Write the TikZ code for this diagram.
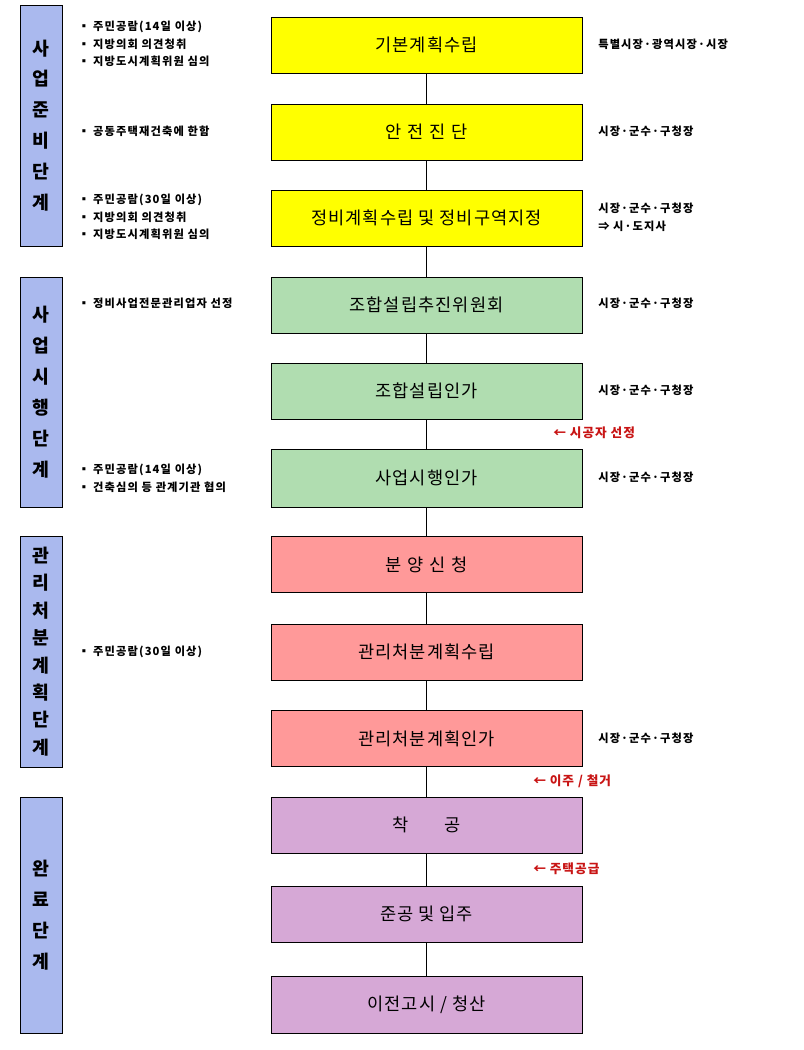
\documentclass[tikz,border=0pt]{standalone}
\usepackage{fontspec}
\setmainfont{Noto Sans CJK KR}
\usepackage{tikz}
\definecolor{StageBlue}{RGB}{170,185,238}
\definecolor{BoxYellow}{RGB}{255,255,0}
\definecolor{BoxGreen}{RGB}{176,221,176}
\definecolor{BoxRed}{RGB}{255,153,153}
\definecolor{BoxPurple}{RGB}{214,168,214}
\definecolor{NoteRed}{RGB}{200,20,20}
\begin{document}
\begin{tikzpicture}[x=0.025cm,y=-0.025cm]
		\tikzstyle{step box}=[draw, minimum width=311*0.025cm, minimum height=56*0.025cm, font=\fontsize{12.5}{14}\selectfont\addfontfeature{LetterSpace=6}, inner sep=0pt];
		\tikzstyle{stage box}=[draw, fill=StageBlue, minimum width=42*0.025cm, align=center, font=\fontsize{13}{22}\bfseries\selectfont, inner sep=0pt];
		\tikzstyle{note}=[anchor=west, align=left, font=\fontsize{8}{12.5}\bfseries\selectfont\addfontfeature{LetterSpace=10}, inner sep=0pt];
		\tikzstyle{red note}=[anchor=west, text=NoteRed, font=\fontsize{9}{11}\bfseries\selectfont\addfontfeature{LetterSpace=8}, inner sep=0pt];
		\useasboundingbox (0,0) rectangle (803,1050);
		% stages
		\node [stage box, minimum height=241*0.025cm] (s1) at (41,125.5) {사\\업\\준\\비\\단\\계};
		\node [stage box, minimum height=230*0.025cm] (s2) at (41,392) {사\\업\\시\\행\\단\\계};
		\node [stage box, minimum height=231*0.025cm, font=\fontsize{13}{19.5}\bfseries\selectfont] (s3) at (41,651.5) {관\\리\\처\\분\\계\\획\\단\\계};
		\node [stage box, minimum height=236*0.025cm] (s4) at (41,915) {완\\료\\단\\계};
		% steps
		\node [step box, fill=BoxYellow] (b1) at (426.5,45) {기본계획수립};
		\node [step box, fill=BoxYellow] (b2) at (426.5,132) {안\,\,전\,\,진\,\,단};
		\node [step box, fill=BoxYellow] (b3) at (426.5,218) {정비계획수립 및 정비구역지정};
		\node [step box, fill=BoxGreen] (b4) at (426.5,305) {조합설립추진위원회};
		\node [step box, fill=BoxGreen] (b5) at (426.5,391) {조합설립인가};
		\node [step box, fill=BoxGreen, minimum height=58*0.025cm] (b6) at (426.5,478) {사업시행인가};
		\node [step box, fill=BoxRed] (b7) at (426.5,564.5) {분\,\,양\,\,신\,\,청};
		\node [step box, fill=BoxRed] (b8) at (426.5,652) {관리처분계획수립};
		\node [step box, fill=BoxRed] (b9) at (426.5,738.5) {관리처분계획인가};
		\node [step box, fill=BoxPurple] (b10) at (426.5,825) {착\quad\quad 공};
		\node [step box, fill=BoxPurple] (b11) at (426.5,914) {준공 및 입주};
		\node [step box, fill=BoxPurple, minimum height=57*0.025cm] (b12) at (426.5,1004.5) {이전고시 / 청산};
		\foreach \a/\b in {1/2,2/3,3/4,4/5,5/6,6/7,7/8,8/9,9/10,10/11,11/12}
			\draw (b\a) -- (b\b);
		% left notes
		\node [note] (l1) at (78,44) {▪ 주민공람(14일 이상)\\▪ 지방의회 의견청취\\▪ 지방도시계획위원 심의};
		\node [note] (l2) at (78,131) {▪ 공동주택재건축에 한함};
		\node [note] (l3) at (78,217) {▪ 주민공람(30일 이상)\\▪ 지방의회 의견청취\\▪ 지방도시계획위원 심의};
		\node [note] (l4) at (78,303) {▪ 정비사업전문관리업자 선정};
		\node [note] (l6) at (78,478) {▪ 주민공람(14일 이상)\\▪ 건축심의 등 관계기관 협의};
		\node [note] (l8) at (78,652) {▪ 주민공람(30일 이상)};
		% right notes
		\node [note] (r1) at (598,44) {특별시장·광역시장·시장};
		\node [note] (r2) at (598,131) {시장·군수·구청장};
		\node [note] (r3) at (598,217) {시장·군수·구청장\\⇒ 시·도지사};
		\node [note] (r4) at (598,303) {시장·군수·구청장};
		\node [note] (r5) at (598,390) {시장·군수·구청장};
		\node [note] (r6) at (598,477) {시장·군수·구청장};
		\node [note] (r9) at (598,738) {시장·군수·구청장};
		% red notes
		\node [red note] (e1) at (553,433) {← 시공자 선정};
		\node [red note] (e2) at (533,781) {← 이주 / 철거};
		\node [red note] (e3) at (533,869) {← 주택공급};
	\end{tikzpicture}
\end{document}
